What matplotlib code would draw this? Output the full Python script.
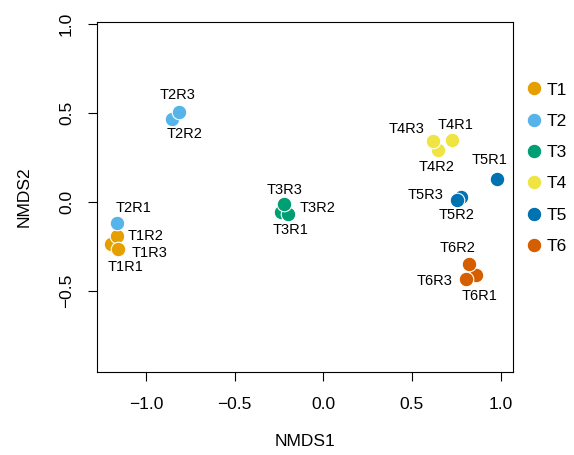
import matplotlib
matplotlib.use("Agg")
import matplotlib.pyplot as plt
from matplotlib.lines import Line2D

plt.rcParams['font.family'] = ['Liberation Sans', 'DejaVu Sans']

# NMDS scores per sample
samples = ['T1R1', 'T1R2', 'T1R3',
           'T2R1', 'T2R2', 'T2R3',
           'T3R1', 'T3R2', 'T3R3',
           'T4R1', 'T4R2', 'T4R3',
           'T5R1', 'T5R2', 'T5R3',
           'T6R1', 'T6R2', 'T6R3']
nmds1 = [-1.199, -1.165, -1.160,
         -1.165, -0.852, -0.814,
         -0.240, -0.197, -0.220,
         0.728, 0.649, 0.620,
         0.980, 0.777, 0.752,
         0.861, 0.823, 0.803]
nmds2 = [-0.234, -0.193, -0.262,
         -0.118, 0.469, 0.506,
         -0.056, -0.065, -0.009,
         0.347, 0.290, 0.341,
         0.128, 0.028, 0.010,
         -0.412, -0.346, -0.434]
groups = ['T1', 'T2', 'T3', 'T4', 'T5', 'T6']
group_colors = ['#E69F00', '#56B4E9', '#009E73', '#F0E442', '#0072B2', '#D55E00']

# label offsets (points) relative to each point
label_offsets = {
    'T1R1': (11, -17), 'T1R2': (21, 0), 'T1R3': (23, -3),
    'T2R1': (12, 11), 'T2R2': (9, -11), 'T2R3': (-1, 12),
    'T3R1': (7, -13), 'T3R2': (21, 4), 'T3R3': (0, 10),
    'T4R1': (2, 11), 'T4R2': (-1, -12), 'T4R3': (-19, 9),
    'T5R1': (-5, 14), 'T5R2': (-3, -13), 'T5R3': (-22, 4),
    'T6R1': (3, -15), 'T6R2': (-8, 11), 'T6R3': (-22, -1),
}

fig = plt.figure(figsize=(5.74, 4.55), dpi=100)
ax = fig.add_axes([0.169, 0.182, 0.724, 0.770])

for name, x, y in zip(samples, nmds1, nmds2):
    g = groups.index(name[:2])
    ax.scatter(x, y, s=110, color=group_colors[g], edgecolor='white',
               linewidth=0.8, zorder=3)
    dx, dy = label_offsets[name]
    ax.annotate(name, (x, y), xytext=(dx, dy), textcoords='offset points',
                ha='center', va='center', fontsize=10.5, zorder=4)

ax.set_xlim(-1.276, 1.068)
ax.set_ylim(-0.957, 1.013)
ax.set_xticks([-1.0, -0.5, 0.0, 0.5, 1.0])
ax.set_yticks([-0.5, 0.0, 0.5, 1.0])
ax.set_xticklabels(['\u22121.0', '\u22120.5', '0.0', '0.5', '1.0'])
ax.set_yticklabels(['\u22120.5', '0.0', '0.5', '1.0'], rotation=90, va='center')
ax.tick_params(direction='out', length=6.5, width=0.8, labelsize=12.5)
ax.tick_params(axis='x', pad=11.5)
ax.tick_params(axis='y', pad=10)
ax.set_xlabel('NMDS1', fontsize=12.5, labelpad=15.5)
ax.set_ylabel('NMDS2', fontsize=12.5, labelpad=20)
for sp in ax.spines.values():
    sp.set_linewidth(0.8)

handles = [Line2D([], [], marker='o', linestyle='none', markersize=10.5,
                  markerfacecolor=c, markeredgecolor='white', markeredgewidth=0.8)
           for c in group_colors]
ax.legend(handles, groups, loc='upper left', bbox_to_anchor=(1.01, 0.847),
          frameon=False, fontsize=12.5, labelspacing=0.93, handletextpad=0.1,
          handlelength=1.2, borderaxespad=0)

fig.savefig('out.png', dpi=100)
